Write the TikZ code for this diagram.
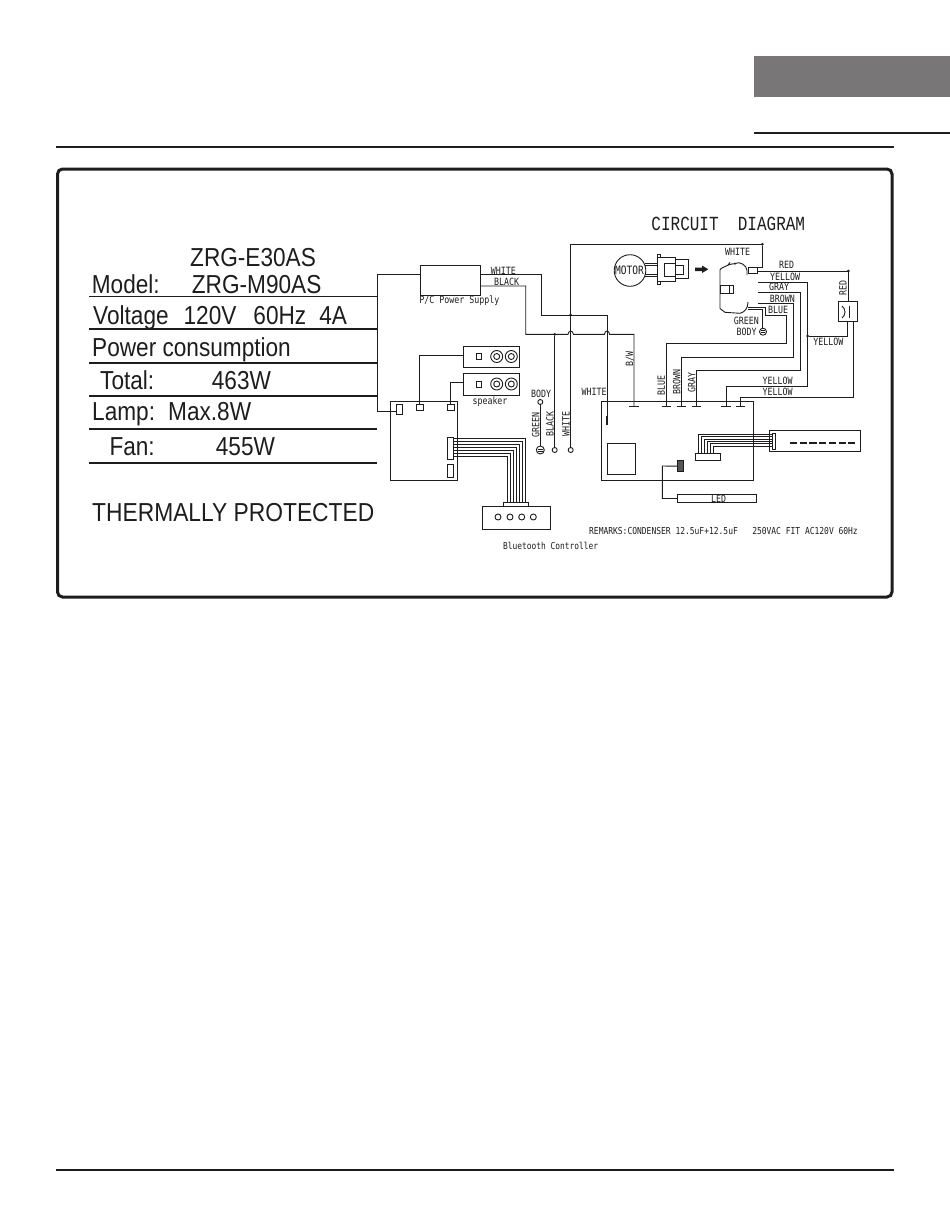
\documentclass[tikz,border=0pt]{standalone}
\usepackage{fontspec}
\setmainfont{Liberation Sans}
\newfontfamily\cadf[FakeStretch=0.83]{DejaVu Sans Mono}
\newfontfamily\titf[FakeStretch=0.8]{Liberation Mono}
\newfontfamily\tabf[FakeStretch=0.87]{Liberation Sans}
\newfontfamily\tabw[FakeStretch=0.877]{Liberation Sans}
\definecolor{ink}{HTML}{1E1C1C}
\definecolor{tabbar}{HTML}{787676}
\tikzset{
  wire/.style={line width=0.9pt,draw=ink},
  rule/.style={line width=1.7pt,draw=ink},
  tabline/.style={line width=1.6pt,draw=ink},
  lab/.style={font=\cadf\fontsize{10}{10}\selectfont,text=ink,inner sep=0pt},
  labs/.style={font=\cadf\fontsize{9.5}{10}\selectfont,text=ink,inner sep=0pt},
  tabt/.style={font=\tabf\fontsize{26}{26}\selectfont,text=ink,inner sep=0pt,anchor=base west},
  ring/.style={circle,draw=ink,line width=0.9pt,inner sep=0pt,fill=white},
  box/.style={draw=ink,line width=0.9pt,inner sep=0pt,outer sep=0pt},
  junction/.style={circle,fill=ink,inner sep=0pt,minimum size=3pt},
}
\newcommand\bx[6][]{%
  \pgfmathsetmacro\rbw{(#5)-(#3)}\pgfmathsetmacro\rbh{(#6)-(#4)}%
  \node[box,minimum width=\rbw pt,minimum height=\rbh pt,#1] (#2) at ({(#3+#5)/2},{(#4+#6)/2}) {};}
\begin{document}
\begin{tikzpicture}[x=1pt,y=-1pt]
\useasboundingbox (0,0) rectangle (950,1229);
% page furniture
\fill[tabbar] (754,56) rectangle (950,97);
\draw[rule] (754,132.7) -- (950,132.7);
\draw[rule] (56,146.7) -- (893.5,146.7);
\draw[rule] (56,1170) -- (894,1170);
\draw[draw=ink,line width=3pt,rounded corners=5pt] (57.5,169) rectangle (892,597);
% table
\draw[wire] (89.3,296.7) -- (376.7,296.7);
\foreach \yy in {328.7,362.7,395.7,428.7,462.7} \draw[tabline] (89.3,\yy) -- (376.7,\yy);
\node[tabt] (t1) at (190,266) {ZRG-E30AS};
\node[tabt] (t2) at (91.7,293.3) {Model:};
\node[tabt] (t3) at (191.7,293.3) {ZRG-M90AS};
\node[tabt] (t4) at (93,324.3) {Voltage\hspace{15pt}120V\hspace{17pt}60Hz\hspace{13pt}4A};
\node[tabt] (t5) at (92,356) {Power consumption};
\node[tabt] (t6) at (100,389) {Total:};
\node[tabt] (t7) at (211.7,389) {463W};
\node[tabt] (t8) at (92,420.7) {Lamp:};
\node[tabt] (t9) at (168,420.7) {Max.8W};
\node[tabt] (t10) at (109.3,455.7) {Fan:};
\node[tabt] (t11) at (215.7,455.7) {455W};
\node[tabt,font=\tabw\fontsize{26}{26}\selectfont] (t12) at (92,521.7) {THERMALLY PROTECTED};
% power supply
\bx{ps}{420}{265}{480}{295}
\node[lab] (lps) at (459.3,301) {P/C Power Supply};
\node[lab] (lw1) at (503.3,271) {WHITE};
\node[lab] (lb1) at (506.7,281.7) {BLACK};
% control board A
\bx{boardA}{390.7}{401.3}{457.3}{480.3}
\bx{cn1}{396}{404}{402}{414}
\bx{cn2}{416}{404}{423}{410}
\bx{cn3}{447.3}{404}{454}{410}
\bx[line width=1.2pt]{bt1}{447.3}{437.7}{453.3}{459.3}
\bx[line width=1.2pt]{bt2}{447.3}{464.3}{453.3}{477.7}
\draw[wire] (ps.west |- 0,274.5) -| (377,411) -- (cn1.west |- 0,411);
% speakers
\bx{sp1}{463.3}{346}{519.7}{367}
\bx{sp2}{463.3}{373}{519.7}{395}
\foreach \nm/\cy in {a/356.5,b/384}{
  \bx{sq\nm}{476}{\cy-3}{481.5}{\cy+3}
  \node[ring,minimum size=12pt] (co\nm) at (496.7,\cy) {};
  \node[ring,minimum size=6pt] (ci\nm) at (496.7,\cy) {};
  \node[ring,minimum size=12pt] (do\nm) at (511.3,\cy) {};
  \node[ring,minimum size=6pt] (di\nm) at (511.3,\cy) {};
}
\draw[wire] (sp1.west |- 0,355) -| (cn2.north);
\draw[wire] (sp2.west |- 0,382.3) -| (cn3.north);
\node[lab] (lsp) at (490,402) {speaker};
% bluetooth
\bx{btbox}{482.7}{506.3}{550.3}{529.3}
\bx{btplug}{503}{502.7}{528.3}{506.3}
\foreach \i/\x in {1/498,2/510,3/521.7,4/533.3} \node[ring,minimum size=6pt] (btc\i) at (\x,517) {};
\foreach \i in {0,...,6}{
  \pgfmathsetmacro\yy{438.7+\i*3}\pgfmathsetmacro\xx{525.3-\i*3}
  \draw[wire] (bt1.east |- 0,\yy) -- (\xx,\yy) -- (\xx,\yy |- btplug.north);
}
\node[labs] (lbt) at (550.7,545.7) {Bluetooth Controller};
% terminals
\node[ring,minimum size=5pt] (tb) at (554.7,450) {};
\node[ring,minimum size=5pt] (tw) at (570.7,450) {};
\node[ring,minimum size=5pt] (tg) at (540.3,402) {};
\node[ring,minimum size=8pt] (gnd1) at (540.3,450) {};
\draw[wire] (537.8,449) -- (542.8,449) (537.8,451) -- (542.8,451);
\draw[wire] (tg) -- (gnd1);
\node[lab] (lbody) at (541,393.5) {BODY};
\node[lab,rotate=90] (lg) at (535.7,425) {GREEN};
\node[lab,rotate=90] (lbl) at (550,424) {BLACK};
\node[lab,rotate=90] (lwh) at (566,424) {WHITE};
\node[lab] (lwh2) at (594,391.7) {WHITE};
% main board
\bx{board}{601.7}{401.3}{753.7}{480.3}
\bx{sqr}{607.3}{443.3}{635.7}{474.3}
\coordinate (jb) at (554.7,334.3);
\coordinate (jw) at (570.7,315);
\coordinate (jt) at (762.3,244.3);
\node[junction] (jbn) at (jb) {};
\node[junction] (jwn) at (jw) {};
\node[junction] (jtn) at (jt) {};
% WHITE from P/C supply
\draw[wire] (ps.east |- 0,274.7) -- (541.7,274.7) -- (541.7,315) -- (607,315) -- (607,416);
\draw[line width=1.9pt,draw=ink] (607,416) -- (607,425);
% BLACK from P/C supply with hops
\draw[wire] (ps.east |- 0,286) -- (525.7,286) -- (525.7,334.3) -- (568,334.3)
  .. controls (568.6,330) and (572.8,330) .. (573.4,334.3) -- (604.4,334.3)
  .. controls (605,330) and (609,330) .. (609.6,334.3) -- (634,334.3) -- (634,406.7);
\draw[wire] (jbn) -- (tb);
\draw[wire] (tw) -- (570.7,244.3) -- (jtn);
% ticks
\foreach \nm/\x in {a/634,b/666.3,c/681.3,d/696.3,e/726,f/740.7}
  \draw[wire] (\x-4.7,406.7) -- (\x+4.7,406.7);
\node[lab,rotate=90] (lbw) at (630,359) {B/W};
\node[lab,rotate=90] (lblue) at (661.3,385) {BLUE};
\node[lab,rotate=90] (lbrown) at (676.7,381.7) {BROWN};
\node[lab,rotate=90] (lgray) at (691.7,382.7) {GRAY};
\node[lab] (ly1) at (777.7,381.3) {YELLOW};
\node[lab] (ly2) at (777.7,392.3) {YELLOW};
% display + connectors
\bx{disp}{769.3}{430.3}{860.7}{451.3}
\bx[line width=1.2pt]{dcon}{772.3}{433.3}{775.7}{449.7}
\bx{dplug}{695.3}{453.3}{720.7}{460.3}
\foreach \i in {0,...,5}{
  \pgfmathsetmacro\yy{434.3+\i*2.35}\pgfmathsetmacro\xx{698.3+\i*3}
  \draw[wire] (dcon.west |- 0,\yy) -- (\xx,\yy) -- (\xx,\yy |- dplug.north);
}
\foreach \i in {0,...,6}{
  \pgfmathsetmacro\xa{790+\i*9.7}\pgfmathsetmacro\xb{\xa+7.2}
  \draw[line width=1.5pt,draw=ink] (\xa,443) -- (\xb,443);
}
% LED
\bx{led}{677.3}{494.3}{756.3}{502.7}
\node[lab] at (718.7,498.5) (lled) {LED};
\bx[fill=ink!75]{chip}{677.7}{460.7}{683}{471.7}
\draw[wire] (led.west) -- (662.3,498.5) -- (662.3,466) -- (chip.west);
% remarks + title
\node[lab,anchor=east,font=\cadf\fontsize{9.6}{10}\selectfont] (lrem) at (858,530.7) {REMARKS:CONDENSER 12.5uF+12.5uF\ \ \ 250VAC FIT AC120V 60Hz};
\node[lab,font=\titf\fontsize{20}{20}\selectfont] (ltitle) at (728.3,223.7) {CIRCUIT\ \ DIAGRAM};
% motor
\node[circle,draw=ink,line width=0.9pt,inner sep=0pt,minimum size=31.6pt] (motor) at (630,270.5) {};
\node[lab,font=\cadf\fontsize{11.5}{11.5}\selectfont] (lmot) at (629.5,270.5) {MOTOR};
\bx{mplug}{657.3}{257}{675.3}{281.7}
\bx{mfl1}{657.3}{254}{660.7}{257}
\bx{mfl2}{657.3}{281.7}{660.7}{284.3}
\foreach \yy in {263.3,265.7,274,276.7} \draw[wire] (644.5,\yy) -- (mplug.west |- 0,\yy);
\bx[line width=1.5pt]{mrect}{664.3}{263.3}{675.3}{276.7}
\bx{mright}{675.3}{259.3}{688.3}{278.3}
\bx{mright2}{675.3}{265.5}{683.5}{274}
\fill[ink] (695,267.5) -- (702,267.5) -- (702,265.5) -- (708.3,269.3) -- (702,273) -- (702,271) -- (695,271) -- cycle;
% fan
\draw[wire] (739,262.7) .. controls (734,264) and (730,264) .. (728.3,265) -- (721,268.5) -- (720,270) -- (720,308.5) -- (725,312.3) -- (740,313.3);
\draw[wire] (739,262.7) .. controls (745,264) and (748,268) .. (747,275);
\draw[wire] (748,302) .. controls (748,308) and (745,312) .. (740,313.3);
\draw[wire] (728,265) -- (730,262.5) (735,265) -- (735,262.5);
\bx{fplug}{720}{285}{729.5}{293.3}
\bx{fplug2}{729.5}{285}{733}{293.3}
\bx{fwhite}{748.3}{267.7}{757.7}{273.3}
\coordinate (fr) at (757.7,271);
\draw[wire] (jtn) -- (762.3,267.7) -- (fwhite.north east);
% fan leads
\draw[wire] (fr) -- (848.3,271) -- (848.3,301.7);
\node[junction] (jr) at (848.3,271) {};
\draw[wire] (757.7,282) -- (807.7,282) -- (807.7,386.3) -- (726,386.3) -- (726,406.7);
\draw[wire] (757.7,292.7) -- (800.7,292.7) -- (800.7,370.3) -- (696.3,370.3) -- (696.3,406.7);
\draw[wire] (757.7,303.3) -- (793.5,303.3) -- (793.5,357.3) -- (681.3,357.3) -- (681.3,406.7);
\draw[wire] (748,307) -- (765,307) -- (765,315) -- (786.7,315) -- (786.7,343.3) -- (666.3,343.3) -- (666.3,406.7);
\draw[wire] (748,309.3) -- (762.6,309.3) -- (762.6,328);
\node[ring,minimum size=7pt] (gnd2) at (763,331.7) {};
\draw[wire] (760.8,330.7) -- (765.2,330.7) (760.8,332.7) -- (765.2,332.7);
\node[lab] (lwt) at (737.7,251.7) {WHITE};
\node[lab] (lrd) at (786.7,265.3) {RED};
\node[lab] (lyl) at (785,277.3) {YELLOW};
\node[lab] (lgy) at (779,287.3) {GRAY};
\node[lab] (lbr) at (782.3,298.7) {BROWN};
\node[lab] (lbu) at (778,310.3) {BLUE};
\node[lab] (lgn) at (746.3,320.5) {GREEN};
\node[lab] (lbd) at (746.7,331.7) {BODY};
% capacitor
\bx{cap}{838.7}{301.7}{857.3}{321.3}
\draw[wire] (842,306) .. controls (846,309) and (846,315) .. (842,318);
\draw[wire] (849,305.5) -- (849,318);
\node[junction] (jy) at (807.7,336) {};
\draw[wire] (jy) -- (847.3,336) -- (847.3,321.3);
\draw[wire] (853.7,321.3) -- (853.7,397.7) -- (740.7,397.7) -- (740.7,406.7);
\node[lab,rotate=90] (lrr) at (843,287.7) {RED};
\node[lab] (lyy) at (828.3,342) {YELLOW};
\end{tikzpicture}
\end{document}
